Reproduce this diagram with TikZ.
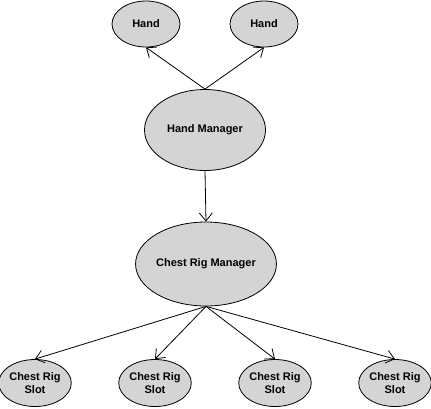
\documentclass[tikz,border=0pt]{standalone}
\usepackage{fontspec}
\setmainfont{Liberation Sans}
\usetikzlibrary{arrows.meta,shapes.geometric}
\definecolor{nodefill}{HTML}{D4D4D4}
\begin{document}
\begin{tikzpicture}[x=1pt,y=-1pt,
  ell/.style={ellipse,draw=black,fill=nodefill,line width=0.8pt,inner sep=0pt,
    font=\bfseries\fontsize{11}{12.5}\selectfont,align=center},
  conn/.style={draw=black,line width=0.8pt,-{Straight Barb[length=8pt,width=13pt,line width=0.8pt]}}]
\useasboundingbox (0,0) rectangle (431,408);
\node[ell,minimum width=68pt,minimum height=46pt] (h1) at (146,24) {Hand};
\node[ell,minimum width=68pt,minimum height=46pt] (h2) at (264,24) {Hand};
\node[ell,minimum width=121pt,minimum height=81pt] (hm) at (205,130) {Hand Manager};
\node[ell,minimum width=128pt,minimum height=84pt] (crm) at (206,264) {Chest Rig Manager};
\node[ell,minimum width=70pt,minimum height=47pt] (s1) at (35,383) {Chest Rig\\Slot};
\node[ell,minimum width=70pt,minimum height=47pt] (s2) at (155,383) {Chest Rig\\Slot};
\node[ell,minimum width=70pt,minimum height=47pt] (s3) at (275,383) {Chest Rig\\Slot};
\node[ell,minimum width=70pt,minimum height=47pt] (s4) at (395,383) {Chest Rig\\Slot};
\draw[conn] (hm.north) -- (h1.south);
\draw[conn] (hm.north) -- (h2.south);
\draw[conn] (hm.south) -- (crm.north);
\draw[conn] (crm.south) -- (s1.north);
\draw[conn] (crm.south) -- (s2.north);
\draw[conn] (crm.south) -- (s3.north);
\draw[conn] (crm.south) -- (s4.north);
\end{tikzpicture}
\end{document}
